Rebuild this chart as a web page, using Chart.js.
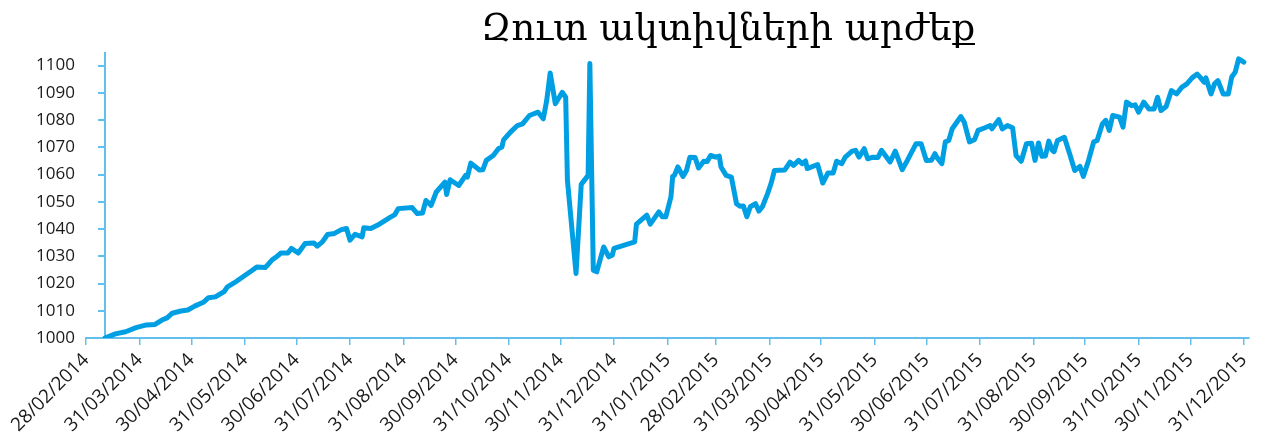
<!DOCTYPE html>
<html>
<head>
<meta charset="utf-8">
<script src="https://cdn.jsdelivr.net/npm/chart.js@4/dist/chart.umd.min.js"></script>
<style>
  html, body { margin: 0; padding: 0; background: #fff; }
  #wrap { position: relative; width: 1261px; height: 443px; }
  #title {
    position: absolute; top: 9px; left: 728px; transform: translateX(-50%);
    font-family: "DejaVu Serif", serif; font-size: 37px; line-height: 1;
    color: #000; white-space: nowrap;
  }
</style>
</head>
<body>
<div id="wrap">
  <canvas id="navChart" width="1261" height="443"></canvas>
  <div id="title">Զուտ ակտիվների արժեք</div>
</div>
<script>
// days counted from 28/02/2014
const startDate = Date.UTC(2014, 1, 28);
const days = [
  11, 17, 23, 29, 35, 40, 44, 47, 50, 55, 59, 63, 68, 71, 75, 80, 82, 86, 91, 96,
  99, 104, 108, 110, 113, 117, 119, 123, 127, 132, 134, 137, 140, 144, 148, 151, 153, 156, 160, 161,
  165, 170, 176, 179, 181, 189, 192, 195, 197, 200, 203, 208, 209, 211, 216, 220, 221, 223, 228, 230,
  232, 236, 239, 241, 242, 246, 250, 253, 257, 262, 265, 267, 269, 272, 276, 278, 279, 284, 287, 291,
  292, 294, 296, 300, 303, 305, 306, 318, 319, 325, 327, 332, 334, 336, 339, 340, 341, 343, 346, 348,
  350, 353, 355, 358, 360, 362, 365, 367, 368, 371, 374, 377, 379, 381, 383, 385, 388, 390, 392, 395,
  397, 399, 405, 408, 410, 413, 415, 417, 418, 424, 427, 430, 433, 435, 438, 440, 444, 446, 448, 451,
  453, 456, 459, 461, 466, 469, 473, 476, 481, 484, 487, 490, 492, 493, 496, 498, 500, 502, 507, 509,
  512, 515, 517, 521, 524, 525, 529, 531, 534, 537, 539, 542, 545, 548, 550, 552, 554, 556, 558, 560,
  561, 563, 567, 570, 573, 576, 578, 581, 584, 586, 589, 591, 593, 595, 599, 601, 603, 606, 608, 610,
  613, 616, 619, 621, 623, 626, 629, 632, 635, 638, 641, 644, 646, 648, 649, 652, 654, 656, 659, 662,
  664, 666, 668, 671
];
const values = [
  1000.0, 1001.5, 1002.3, 1003.8, 1004.8, 1005.0, 1006.6, 1007.4, 1009.1, 1009.9, 1010.3, 1011.7, 1013.1, 1014.8, 1015.1, 1017.0, 1018.8, 1020.3, 1022.5, 1024.7,
  1026.1, 1025.9, 1028.8, 1029.6, 1031.2, 1031.2, 1032.9, 1031.2, 1034.7, 1034.9, 1033.7, 1035.3, 1038.0, 1038.4, 1039.8, 1040.2, 1035.9, 1038.1, 1037.1, 1040.5,
  1040.2, 1041.8, 1044.2, 1045.3, 1047.5, 1047.9, 1045.7, 1045.9, 1050.5, 1048.7, 1053.6, 1057.2, 1052.7, 1058.1, 1056.0, 1059.7, 1059.1, 1064.2, 1061.7, 1061.8,
  1065.2, 1067.0, 1069.5, 1070.1, 1072.7, 1075.6, 1078.0, 1078.6, 1081.7, 1082.9, 1080.5, 1087.2, 1097.3, 1086.0, 1090.2, 1088.4, 1057.9, 1023.7, 1056.4, 1059.7,
  1100.8, 1024.9, 1024.3, 1033.4, 1029.8, 1030.4, 1032.9, 1035.3, 1041.8, 1045.1, 1041.8, 1046.3, 1044.5, 1044.5, 1051.8, 1059.3, 1059.7, 1062.8, 1059.3, 1061.5,
  1066.4, 1066.3, 1062.4, 1064.9, 1064.8, 1067.0, 1066.4, 1066.8, 1062.8, 1059.7, 1059.1, 1049.3, 1048.4, 1048.5, 1044.5, 1048.2, 1049.3, 1046.6, 1048.2, 1053.0,
  1056.7, 1061.5, 1061.7, 1064.6, 1063.4, 1065.2, 1064.0, 1065.0, 1062.2, 1063.7, 1056.9, 1060.6, 1060.6, 1064.9, 1064.0, 1066.4, 1068.6, 1068.9, 1066.4, 1069.5,
  1065.8, 1066.4, 1066.3, 1068.9, 1064.6, 1068.6, 1061.8, 1065.2, 1071.3, 1071.3, 1065.2, 1065.3, 1067.7, 1066.4, 1064.0, 1072.0, 1072.5, 1076.8, 1081.3, 1079.2,
  1072.0, 1072.9, 1076.2, 1077.2, 1078.0, 1076.8, 1080.2, 1076.8, 1078.0, 1077.2, 1067.0, 1064.9, 1071.3, 1071.5, 1065.2, 1071.6, 1066.7, 1066.8, 1072.3, 1068.9,
  1068.4, 1072.5, 1073.7, 1067.7, 1061.5, 1063.0, 1059.3, 1065.2, 1072.0, 1072.5, 1078.6, 1079.9, 1076.2, 1081.7, 1081.1, 1077.4, 1086.6, 1085.3, 1085.6, 1082.9,
  1086.6, 1084.1, 1084.1, 1088.4, 1083.5, 1085.0, 1090.8, 1089.6, 1092.0, 1093.3, 1095.5, 1096.9, 1095.5, 1093.9, 1095.5, 1089.6, 1093.3, 1094.5, 1089.6, 1089.6,
  1095.8, 1097.6, 1102.5, 1101.3
];
const tickLabels = [
  '28/02/2014', '31/03/2014', '30/04/2014', '31/05/2014', '30/06/2014', '31/07/2014',
  '31/08/2014', '30/09/2014', '31/10/2014', '30/11/2014', '31/12/2014', '31/01/2015',
  '28/02/2015', '31/03/2015', '30/04/2015', '31/05/2015', '30/06/2015', '31/07/2015',
  '31/08/2015', '30/09/2015', '31/10/2015', '30/11/2015', '31/12/2015'
];
const yTicks = [1000, 1010, 1020, 1030, 1040, 1050, 1060, 1070, 1080, 1090, 1100];

const axisColor = '#62c1ec';
const lineColor = '#009fe3';

function toDay(label) {
  const [d, m, y] = label.split('/').map(Number);
  return Math.round((Date.UTC(y, m - 1, d) - startDate) / 86400000);
}

// vertical axis crosses at the first data date, not at the left edge
const crossAxis = {
  id: 'crossAxis',
  beforeDatasetsDraw(chart) {
    const { ctx, chartArea, scales } = chart;
    const x = Math.round(scales.x.getPixelForValue(days[0]));
    ctx.save();
    ctx.strokeStyle = axisColor;
    ctx.lineWidth = 2;
    ctx.beginPath();
    ctx.moveTo(x, chartArea.top);
    ctx.lineTo(x, chartArea.bottom);
    yTicks.forEach(v => {
      const y = Math.round(scales.y.getPixelForValue(v));
      ctx.moveTo(x - 7, y);
      ctx.lineTo(x, y);
    });
    ctx.stroke();
    ctx.restore();
  }
};

new Chart(document.getElementById('navChart'), {
  type: 'line',
  data: {
    datasets: [{
      data: days.map((d, i) => ({ x: d, y: values[i] })),
      borderColor: lineColor,
      borderWidth: 5,
      pointRadius: 0,
      tension: 0,
      borderJoinStyle: 'round',
      borderCapStyle: 'round'
    }]
  },
  options: {
    responsive: false,
    animation: false,
    layout: { padding: { left: 0, right: 12, top: 52, bottom: 0 } },
    plugins: { legend: { display: false }, tooltip: { enabled: false }, title: { display: false } },
    scales: {
      x: {
        type: 'linear',
        min: 0,
        max: toDay('31/12/2015') + 3,
        afterBuildTicks: (scale) => {
          scale.ticks = tickLabels.map(l => ({ value: toDay(l) }));
        },
        afterFit: (scale) => {
          scale.height = 105;
          scale.paddingLeft = 0;
          scale.paddingRight = 0;
        },
        border: { display: true, color: axisColor, width: 2 },
        grid: { drawOnChartArea: false, drawTicks: true, tickLength: 7, color: axisColor, lineWidth: 1.5 },
        ticks: {
          autoSkip: false,
          maxRotation: 45,
          minRotation: 45,
          padding: 4,
          color: '#1a1a1a',
          font: { family: 'Open Sans', size: 19 },
          callback: (v, i) => tickLabels[i]
        }
      },
      y: {
        min: 1000,
        max: 1105,
        afterBuildTicks: (scale) => {
          scale.ticks = yTicks.map(v => ({ value: v }));
        },
        afterFit: (scale) => { scale.width = 86; },
        border: { display: false },
        grid: { display: false },
        ticks: {
          padding: 3,
          color: '#1a1a1a',
          font: { family: 'Open Sans', size: 17 },
          callback: (v) => String(v)
        }
      }
    }
  },
  plugins: [crossAxis]
});
</script>
</body>
</html>
